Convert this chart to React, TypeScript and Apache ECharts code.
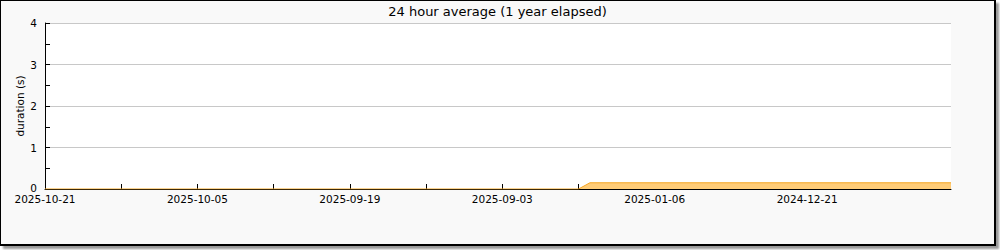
import React, { useEffect, useRef } from "react";
import * as echarts from "echarts";

const titleText = "24 hour average (1 year elapsed)";
const yAxisName = "duration (s)";
// x positions in days since left edge
const xDays = [0, 56, 57.2, 95.1];
const durations = [0, 0, 0.15, 0.15];
const xTickDays = [0, 8, 16, 24, 32, 40, 48, 56, 64, 72, 80, 88];
const xLabelDays = [0, 16, 32, 48, 64, 80];
const xLabels = ["2025-10-21", "2025-10-05", "2025-09-19", "2025-09-03", "2025-01-06", "2024-12-21"];

const FONT = "DejaVu Sans";

export default function App() {
  const ref = useRef<HTMLDivElement>(null);
  useEffect(() => {
    if (!ref.current) return;
    const chart = echarts.init(ref.current, undefined, { renderer: "svg" });
    chart.setOption({
      animation: false,
      backgroundColor: "transparent",
      title: {
        text: titleText,
        left: "center",
        top: -1,
        textStyle: { fontFamily: FONT, fontSize: 13, fontWeight: "normal", color: "#000" },
      },
      grid: { left: 44, top: 22, width: 906, height: 166, show: true, backgroundColor: "#fff", borderWidth: 0 },
      xAxis: {
        type: "value",
        min: 0,
        max: 95.1,
        interval: 8,
        axisLine: { show: true, lineStyle: { color: "#000", width: 1 } },
        axisTick: { show: true, inside: true, length: 5, customValues: xTickDays, lineStyle: { color: "#000" } },
        axisLabel: {
          customValues: xLabelDays,
          formatter: (v: number) => {
            const i = xLabelDays.indexOf(v);
            return i >= 0 ? xLabels[i] : "";
          },
          fontFamily: FONT,
          fontSize: 10.5,
          lineHeight: 10,
          color: "#000",
          margin: 5,
        },
        splitLine: { show: false },
      },
      yAxis: {
        type: "value",
        min: 0,
        max: 4,
        interval: 1,
        name: yAxisName,
        nameLocation: "middle",
        nameGap: 20,
        nameMoveOverlap: false,
        nameTextStyle: { fontFamily: FONT, fontSize: 10.5, color: "#000" },
        axisLine: { show: true, lineStyle: { color: "#000", width: 1 } },
        axisTick: { show: true, inside: true, length: 5, lineStyle: { color: "#000" } },
        minorTick: { show: true, splitNumber: 2, length: 5, lineStyle: { color: "#000" } },
        axisLabel: {
          fontFamily: FONT,
          fontSize: 10.5,
          lineHeight: 8,
          color: "#000",
          margin: 8,
          formatter: (v: number) => (v === 0 ? "{z|0}" : String(v)),
          rich: { z: { fontFamily: FONT, fontSize: 10.5, lineHeight: 8, color: "#000", padding: [0, 0, 2, 0] } },
        },
        splitLine: { show: true, lineStyle: { color: "#c8c8c8", width: 1 } },
      },
      series: [
        {
          type: "line",
          data: xDays.map((d, i) => [d, durations[i]]),
          showSymbol: false,
          symbol: "none",
          lineStyle: { color: "#f5a623", width: 1 },
          areaStyle: { color: "#ffcc77", opacity: 1 },
        },
      ],
    });
    return () => chart.dispose();
  }, []);
  return (
    <div style={{ position: "fixed", left: 0, top: 0, width: 1000, height: 250, background: "#fff" }}>
      <div
        style={{
          position: "absolute",
          left: 0,
          top: 0,
          width: 993,
          height: 243,
          border: "1px solid #000",
          borderRightWidth: 2,
          borderBottomWidth: 2,
          background: "#f9f9f9",
          boxShadow: "3px 3px 2px #999",
          boxSizing: "content-box",
        }}
      >
        <div ref={ref} style={{ width: 993, height: 243 }} />
      </div>
    </div>
  );
}
